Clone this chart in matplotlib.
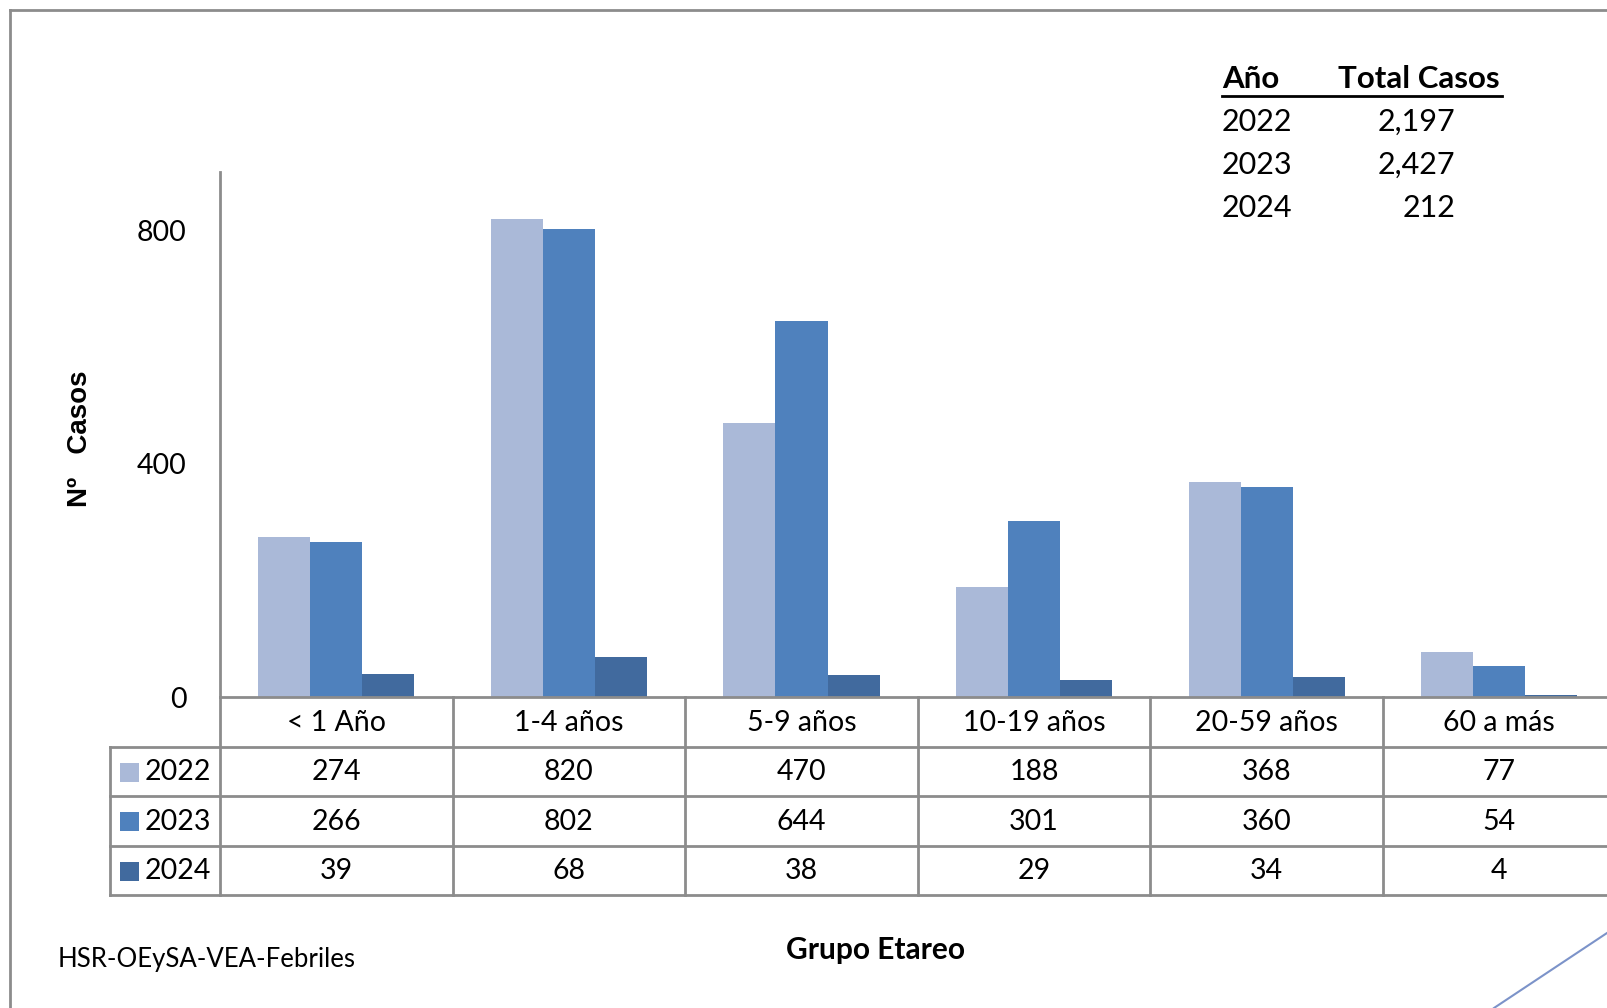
import matplotlib
matplotlib.use("Agg")
import matplotlib.pyplot as plt
from matplotlib.lines import Line2D
from matplotlib.patches import Rectangle
import numpy as np

plt.rcParams['font.family'] = ['Lato', 'DejaVu Sans']

# data
grupos = ['< 1 Año', '1-4 años', '5-9 años', '10-19 años', '20-59 años', '60 a más']
anios = ['2022', '2023', '2024']
casos_2022 = [274, 820, 470, 188, 368, 77]
casos_2023 = [266, 802, 644, 301, 360, 54]
casos_2024 = [39, 68, 38, 29, 34, 4]
colores = ['#AAB9D8', '#4F81BD', '#416A9E']
yticks = [0, 400, 800]

series = [casos_2022, casos_2023, casos_2024]
totales = [sum(s) for s in series]

W, H = 1607, 1008
fig = plt.figure(figsize=(W / 100, H / 100), dpi=100)
gris = '#8C8C8C'
fs = 20.5

def fx(px):
    return px / W

def fy(py):
    return 1 - py / H

# plot area (runs past the right edge like the original)
ax = fig.add_axes([fx(220), fy(697), 6 * 232.6 / W, 525 / H])
x = np.arange(len(grupos))
bw = 0.224
for i, s in enumerate(series):
    ax.bar(x + (i - 1) * bw, s, width=bw, color=colores[i], linewidth=0)

ax.set_xlim(-0.5, len(grupos) - 0.5)
ax.set_ylim(0, 900)
ax.set_yticks(yticks)
ax.tick_params(axis='y', length=0, pad=24, labelsize=fs)
ax.set_xticks([])
for sp in ['top', 'right', 'bottom']:
    ax.spines[sp].set_visible(False)
ax.spines['left'].set_color(gris)
ax.spines['left'].set_linewidth(2)

# data table under the bars
tr = ax.get_xaxis_transform()
rh = 49.5 / 525  # row height in axes fraction
leg_left = -0.5 - 110 / 232.6
right = len(grupos) - 0.5 + 0.2
kw = dict(transform=tr, clip_on=False, color=gris, lw=2)
ax.add_line(Line2D([-0.5, right], [0, 0], **kw))
for r in range(1, 5):
    ax.add_line(Line2D([leg_left, right], [-r * rh, -r * rh], **kw))
for c in range(len(grupos) + 1):
    ax.add_line(Line2D([c - 0.5, c - 0.5], [0, -4 * rh], **kw))
ax.add_line(Line2D([leg_left, leg_left], [-rh, -4 * rh], **kw))

for j, g in enumerate(grupos):
    ax.text(j, -0.52 * rh, g, transform=tr, ha='center', va='center', fontsize=fs)
for i, s in enumerate(series):
    yc = -(i + 1.52) * rh
    for j, v in enumerate(s):
        ax.text(j, yc, str(v), transform=tr, ha='center', va='center', fontsize=fs)
    ax.add_patch(Rectangle((leg_left + 10 / 232.6, yc - 9.5 / 525), 19 / 232.6, 19 / 525,
                           transform=tr, clip_on=False, color=colores[i], lw=0))
    ax.text(leg_left + 35 / 232.6, yc, anios[i], transform=tr, ha='left', va='center',
            fontsize=fs)

# axis titles and source
fig.text(fx(80), fy(439), 'Nº   Casos', rotation=90, ha='center', va='center',
         fontsize=20, fontweight='bold', family=['Liberation Sans', 'DejaVu Sans'])
fig.text(fx(876), fy(950), 'Grupo Etareo', ha='center', va='center',
         fontsize=21.5, fontweight='bold')
fig.text(fx(58), fy(960), 'HSR-OEySA-VEA-Febriles', ha='left', va='center', fontsize=18.5)

# totals box
fig.text(fx(1222), fy(79), 'Año', ha='left', va='center', fontsize=22.5, fontweight='bold')
fig.text(fx(1338), fy(79), 'Total Casos', ha='left', va='center', fontsize=22.5,
         fontweight='bold')
fig.add_artist(Line2D([fx(1222), fx(1502)], [fy(96), fy(96)], transform=fig.transFigure,
                      color='black', lw=2))
for i, a in enumerate(anios):
    yy = fy(122 + i * 43)
    fig.text(fx(1222), yy, a, ha='left', va='center', fontsize=22)
    fig.text(fx(1455), yy, f'{totales[i]:,}', ha='right', va='center', fontsize=22)

# outer frame and decoration
fig.add_artist(Line2D([fx(10), fx(10)], [0, fy(10)], transform=fig.transFigure, color=gris, lw=2))
fig.add_artist(Line2D([fx(10), 1], [fy(10), fy(10)], transform=fig.transFigure, color=gris, lw=2))
fig.add_artist(Line2D([fx(1494), 1], [0, fy(933)], transform=fig.transFigure,
                      color='#7C93C9', lw=1.5))

fig.savefig('out.png', dpi=100)
